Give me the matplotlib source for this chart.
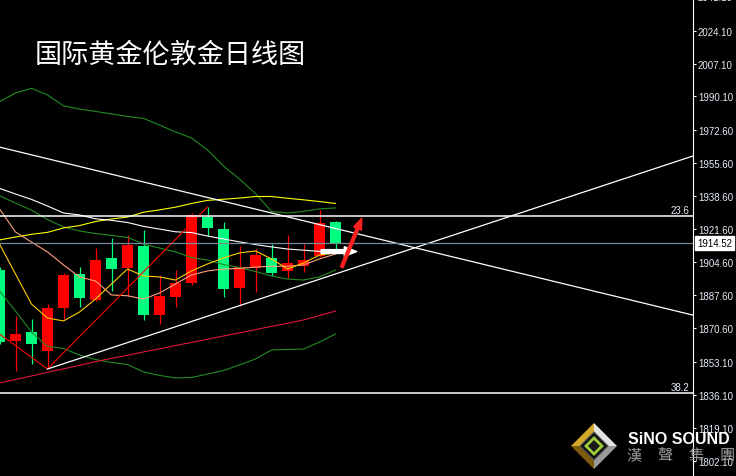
"""Daily London gold chart (MT4 style, black background) with MAs, Bollinger bands and drawn lines."""
from __future__ import annotations

import sys

import matplotlib

matplotlib.use("Agg")
import matplotlib.pyplot as plt
import matplotlib.transforms as mtransforms
import numpy as np
from matplotlib import font_manager
from matplotlib.patches import Polygon, Rectangle

TITLE = "国际黄金伦敦金日线图"

# daily candles, oldest first
OPEN = [1863.6, 1867.6, 1862.6, 1881.0, 1898.0, 1886.1, 1905.9, 1901.3, 1913.6, 1877.5, 1887.3,
        1893.9, 1929.0, 1922.4, 1890.8, 1902.0, 1908.3, 1899.2, 1904.2, 1905.7, 1924.8, 1914.4]
HIGH = [1902.1, 1877.0, 1875.3, 1883.0, 1899.0, 1902.1, 1911.9, 1917.1, 1918.6, 1921.2, 1898.0,
        1900.7, 1930.0, 1933.1, 1925.5, 1913.1, 1911.4, 1914.0, 1918.6, 1914.0, 1931.5, 1926.0]
LOW = [1862.4, 1848.6, 1852.1, 1849.5, 1875.3, 1881.7, 1884.6, 1889.9, 1887.2, 1874.9, 1872.7,
       1881.7, 1892.8, 1918.3, 1886.5, 1882.2, 1889.4, 1897.3, 1896.5, 1899.4, 1907.3, 1910.5]
CLOSE = [1900.7, 1864.1, 1868.6, 1859.0, 1881.1, 1898.5, 1885.3, 1906.8, 1901.6, 1913.0, 1877.5,
         1886.8, 1893.9, 1928.1, 1921.7, 1891.3, 1901.6, 1906.8, 1899.9, 1902.8, 1907.7, 1925.2]

# indicator values at each candle
MA_WHITE = [1942.7, 1939.8, 1937.0, 1933.6, 1930.0, 1929.0, 1927.0, 1926.2, 1925.1, 1923.1, 1921.7,
            1920.3, 1919.9, 1918.1, 1916.6, 1915.1, 1913.7, 1912.5, 1911.4, 1910.8, 1910.2, 1909.9]
MA_FAST = [1914.0, 1898.5, 1883.0, 1875.8, 1874.3, 1878.9, 1885.6, 1893.4, 1901.1, 1897.5, 1897.0,
           1895.4, 1900.1, 1903.7, 1906.8, 1909.4, 1910.4, 1906.3, 1901.1, 1904.2, 1908.3, 1909.4]
MA_MID = [1932.1, 1920.2, 1915.0, 1909.9, 1903.2, 1897.0, 1894.9, 1887.7, 1887.3, 1885.6, 1888.7,
          1893.4, 1898.0, 1900.1, 1901.1, 1901.4, 1902.1, 1902.5, 1902.5, 1903.2, 1906.3, 1908.8]
MA_SLOW = [1916.1, 1917.6, 1919.0, 1920.0, 1922.3, 1923.5, 1925.6, 1926.9, 1927.9, 1930.4, 1931.6,
           1933.0, 1934.9, 1936.5, 1937.1, 1937.7, 1938.5, 1938.5, 1937.6, 1936.8, 1935.9, 1934.9]
MA_LONG = [1842.3, 1844.1, 1845.9, 1847.8, 1849.6, 1851.4, 1853.3, 1855.0, 1856.6, 1858.3, 1859.9,
           1861.6, 1863.2, 1864.9, 1866.5, 1868.2, 1869.8, 1871.5, 1873.1, 1874.8, 1877.1, 1879.4]
BB_UPPER = [1987.4, 1991.9, 1994.3, 1990.9, 1985.3, 1983.6, 1982.4, 1981.1, 1979.8, 1978.8, 1975.4,
            1971.8, 1968.7, 1962.5, 1954.2, 1947.5, 1940.0, 1930.8, 1930.0, 1930.8, 1932.1, 1932.6]
BB_MIDDLE = [1938.9, 1935.1, 1931.5, 1926.6, 1922.8, 1920.7, 1919.4, 1918.4, 1917.4, 1914.0, 1911.9,
             1909.9, 1907.0, 1905.7, 1903.4, 1901.9, 1899.8, 1897.5, 1895.9, 1895.4, 1897.0, 1900.6]
BB_LOWER = [1889.8, 1879.4, 1868.6, 1861.1, 1860.1, 1856.7, 1854.4, 1852.9, 1851.8, 1848.0, 1846.2,
            1844.9, 1845.1, 1846.9, 1848.7, 1851.6, 1854.7, 1859.3, 1859.6, 1859.8, 1863.4, 1867.6]

ZIGZAG_X = [0, 3, 13]
ZIGZAG_Y = [1867.6, 1849.5, 1933.1]

# drawn objects: (x0, price0, x1, price1), x in candle index
TREND_DOWN = (0.0, 1964.0, 40.0, 1884.0)
TREND_UP = (3.0, 1849.5, 44.0, 1961.2)
ARROW_WHITE = (20.1, 1910.1, 22.33, 1910.1)
ARROW_RED = (21.39, 1902.0, 22.64, 1927.3)

FIB_NAMES = ["23.6", "38.2"]
FIB_LEVELS = [1928.3, 1837.1]
LAST_PRICE = 1914.52

Y_TICKS = [2024.10, 2007.10, 1990.10, 1972.60, 1955.60, 1938.60, 1921.60, 1904.60,
           1887.60, 1870.60, 1853.10, 1836.10, 1819.10, 1802.10]
TOP_CUT_LABEL = "2041.10"

W, H = 736, 477
PLOT_RIGHT = 693
RED = "#ff0000"
GREEN = "#00ff7f"
LABEL_COLOR = "#e4ebf6"


def _font_names() -> set[str]:
    return {f.name for f in font_manager.fontManager.ttflist}


def draw_candles(ax) -> None:
    body_w = 11 / 16
    for i, (o, h, l, c) in enumerate(zip(OPEN, HIGH, LOW, CLOSE)):
        color = GREEN if c >= o else RED
        ax.vlines(i, l, h, color=color, lw=0.9, zorder=2)
        ax.add_patch(Rectangle((i - body_w / 2, min(o, c)), body_w, abs(c - o),
                               facecolor=color, edgecolor="none", zorder=3))


def draw_indicators(ax) -> None:
    x = np.arange(len(CLOSE))
    for values, color in [
        (BB_UPPER, "#228b22"),
        (BB_MIDDLE, "#228b22"),
        (BB_LOWER, "#228b22"),
        (MA_LONG, "#dc143c"),
        (MA_SLOW, "#ffff00"),
        (MA_MID, "#ffa07a"),
        (MA_FAST, "#ffcc00"),
        (MA_WHITE, "#ffffff"),
    ]:
        ax.plot(x, values, color=color, lw=0.8, zorder=4)
    ax.plot(ZIGZAG_X, ZIGZAG_Y, color=RED, lw=0.8, zorder=4)


def draw_objects(ax) -> None:
    x0, y0, x1, y1 = TREND_DOWN
    ax.axline((x0, y0), (x1, y1), color="white", lw=0.9, zorder=5)
    x0, y0, x1, y1 = TREND_UP
    ax.plot([x0, x1], [y0, y1], color="white", lw=0.9, zorder=5)

    for level in FIB_LEVELS:
        ax.axhline(level, color="white", lw=1.1, zorder=5)
    ax.axhline(LAST_PRICE, color="#778899", lw=0.9, zorder=5)

    blend = mtransforms.blended_transform_factory(ax.transAxes, ax.transData)
    for name, level in zip(FIB_NAMES, FIB_LEVELS):
        ax.text(689 / PLOT_RIGHT, level + 0.7, name, transform=blend, ha="right", va="bottom",
                color=LABEL_COLOR, fontsize=7, family="Liberation Sans", zorder=6)

    x0, y0, x1, y1 = ARROW_WHITE
    ax.annotate("", xy=(x1, y1), xytext=(x0, y0), zorder=7,
                arrowprops=dict(arrowstyle="simple,head_length=0.9,head_width=0.7,tail_width=0.28",
                                color="white", mutation_scale=10, shrinkA=0, shrinkB=0))
    x0, y0, x1, y1 = ARROW_RED
    ax.annotate("", xy=(x1, y1), xytext=(x0, y0), zorder=7,
                arrowprops=dict(arrowstyle="simple,head_length=0.8,head_width=0.6,tail_width=0.2",
                                color="#ff2020", mutation_scale=10, shrinkA=0, shrinkB=0))


def style_axis(ax) -> None:
    ax.set_facecolor("black")
    ax.set_xlim(0.5 / 16, (PLOT_RIGHT + 0.5) / 16)
    ax.set_ylim(1794.3, 2040.4)
    ax.set_xticks([])
    for side in ("top", "bottom", "left"):
        ax.spines[side].set_visible(False)
    ax.spines["right"].set_color("white")
    ax.spines["right"].set_linewidth(0.8)
    ax.yaxis.tick_right()
    ax.set_yticks(Y_TICKS)
    ax.set_yticklabels([f"{v:.2f}" for v in Y_TICKS])
    ax.tick_params(axis="y", colors="white", labelcolor=LABEL_COLOR, length=2.2, width=0.8,
                   pad=1.4, labelsize=7)
    for lbl in ax.get_yticklabels():
        lbl.set_fontfamily("Liberation Sans")

    blend = mtransforms.blended_transform_factory(ax.transAxes, ax.transData)
    ax.text(1 + 4 / PLOT_RIGHT, LAST_PRICE, f"{LAST_PRICE:.2f}", transform=blend, ha="left",
            va="center", color="black", fontsize=7, family="Liberation Sans", clip_on=False,
            zorder=10, bbox=dict(boxstyle="square,pad=0.25", fc="white", ec="white"))


def draw_logo(fig) -> None:
    ov = fig.add_axes([0, 0, 1, 1], zorder=5)
    ov.set_xlim(0, W)
    ov.set_ylim(H, 0)
    ov.set_facecolor("none")
    ov.axis("off")

    cx, cy, r_out, r_in = 594, 447, 23, 14

    def diamond(r):
        return [(cx, cy - r), (cx + r, cy), (cx, cy + r), (cx - r, cy)]

    outer, inner = diamond(r_out), diamond(r_in)
    facets = ["#e2e2e2", "#9c9c9c", "#7a5c0c", "#d4a92a"]
    for k, color in enumerate(facets):
        a, b = outer[k], outer[(k + 1) % 4]
        c, d = inner[(k + 1) % 4], inner[k]
        ov.add_patch(Polygon([a, b, c, d], closed=True, facecolor=color, edgecolor="none"))
    ov.add_patch(Polygon(inner, closed=True, facecolor="#111111", edgecolor="#555555", lw=0.8))
    ov.add_patch(Polygon(diamond(8), closed=True, facecolor="#1a1a1a", edgecolor="#9ccc3c", lw=2.0))

    names = _font_names()
    narrow = "Liberation Sans Narrow" in names
    fig.text(628 / W, 1 - 439.5 / H, "SiNO SOUND", ha="left", va="center", color="white",
             fontsize=14 if narrow else 11.5, fontweight="bold",
             family="Liberation Sans Narrow" if narrow else "Liberation Sans", zorder=20)
    for k, ch in enumerate("漢聲集團"):
        fig.text((634 + 31 * k) / W, 1 - 456 / H, ch, ha="center", va="center", color="#9a9a9a",
                 fontsize=11, family="Noto Sans CJK TC", zorder=20)


def main() -> int:
    fig = plt.figure(figsize=(W / 100, H / 100), dpi=100, facecolor="black")
    ax = fig.add_axes([0, 0, PLOT_RIGHT / W, 1])

    style_axis(ax)
    draw_candles(ax)
    draw_indicators(ax)
    draw_objects(ax)

    fig.text(698 / W, 1 + 2 / H, TOP_CUT_LABEL, ha="left", va="center", color=LABEL_COLOR,
             fontsize=7, family="Liberation Sans")
    fig.text(35 / W, 1 - 55 / H, TITLE, ha="left", va="center", color="white", fontsize=19.5,
             family="Noto Sans CJK SC")
    draw_logo(fig)

    fig.savefig("out.png", dpi=100, facecolor="black")
    plt.close(fig)
    return 0


if __name__ == "__main__":
    sys.exit(main())
